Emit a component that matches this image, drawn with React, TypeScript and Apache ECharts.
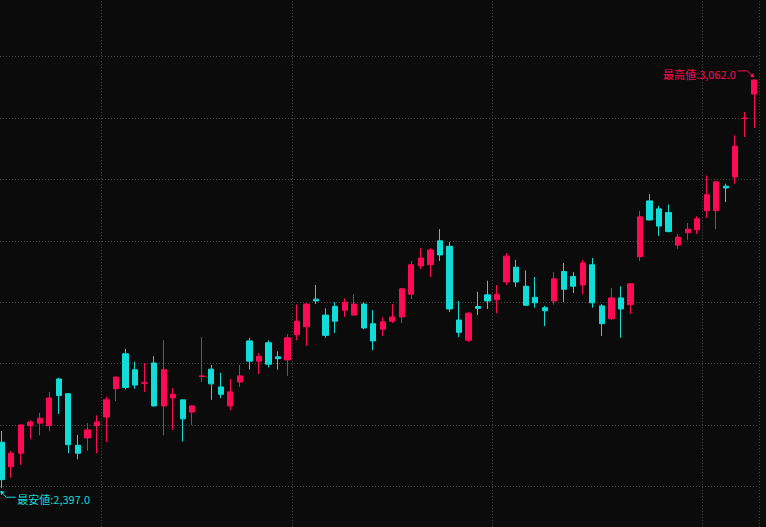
import React, { useEffect, useRef } from "react";
import * as echarts from "echarts";

// Trading days (month -> day numbers)
const monthKeys = ["2025/04", "2025/05", "2025/06", "2025/07", "2025/08"];
const monthDays = [
  [15, 16, 17, 18, 21, 22, 23, 24, 25, 28, 30],
  [1, 2, 7, 8, 9, 12, 13, 14, 15, 16, 19, 20, 21, 22, 23, 26, 27, 28, 29, 30],
  [2, 3, 4, 5, 6, 9, 10, 11, 12, 13, 16, 17, 18, 19, 20, 23, 24, 25, 26, 27, 30],
  [1, 2, 3, 4, 7, 8, 9, 10, 11, 14, 15, 16, 17, 18, 22, 23, 24, 25, 28, 29, 30, 31],
  [1, 4, 5, 6, 7, 8],
];

const opens = [
  2472, 2432, 2454, 2499, 2503, 2499, 2575, 2551, 2467, 2479, 2499, 2513, 2559, 2616, 2590, 2568,
  2601, 2531, 2544, 2541, 2521, 2579, 2591, 2562, 2531, 2570, 2637, 2604, 2634, 2611, 2606, 2647,
  2660, 2705, 2679, 2693, 2687, 2679, 2697, 2665, 2656, 2669, 2676, 2713, 2759, 2761, 2800, 2791,
  2671, 2638, 2693, 2712, 2704, 2733, 2757, 2726, 2708, 2691, 2702, 2750, 2742, 2728, 2761, 2694,
  2673, 2707, 2696, 2774, 2865, 2852, 2846, 2793, 2813, 2818, 2849, 2849, 2889, 2904, 2999, 3039,
];
const closes = [
  2411, 2454, 2500, 2505, 2511, 2544, 2548, 2468, 2454, 2492, 2505, 2541, 2578, 2561, 2565, 2569,
  2531, 2590, 2550, 2510, 2531, 2580, 2567, 2550, 2554, 2580, 2604, 2612, 2599, 2608, 2642, 2669,
  2697, 2702, 2646, 2669, 2700, 2697, 2658, 2637, 2668, 2676, 2722, 2761, 2772, 2785, 2777, 2689,
  2651, 2682, 2690, 2702, 2713, 2775, 2733, 2695, 2699, 2686, 2738, 2721, 2726, 2764, 2699, 2665,
  2707, 2689, 2730, 2839, 2834, 2824, 2815, 2806, 2819, 2836, 2875, 2896, 2886, 2954, 3000, 3062,
];
const lows = [
  2397, 2414, 2435, 2477, 2483, 2490, 2518, 2454, 2444, 2458, 2454, 2472, 2539, 2558, 2559, 2554,
  2530, 2483, 2492, 2473, 2500, 2570, 2541, 2544, 2524, 2562, 2590, 2583, 2594, 2590, 2580, 2638,
  2629, 2697, 2642, 2650, 2676, 2678, 2656, 2622, 2645, 2666, 2666, 2705, 2754, 2741, 2767, 2684,
  2643, 2635, 2679, 2689, 2682, 2728, 2725, 2694, 2691, 2661, 2696, 2700, 2715, 2713, 2691, 2645,
  2671, 2642, 2681, 2767, 2833, 2808, 2814, 2787, 2801, 2811, 2837, 2819, 2863, 2893, 2969, 2984,
];
const highs = [
  2490, 2458, 2501, 2508, 2520, 2554, 2577, 2552, 2484, 2503, 2516, 2546, 2579, 2624, 2603, 2601,
  2612, 2638, 2560, 2541, 2532, 2643, 2598, 2585, 2575, 2598, 2642, 2617, 2638, 2620, 2648, 2696,
  2698, 2728, 2690, 2700, 2706, 2713, 2700, 2687, 2676, 2697, 2722, 2767, 2788, 2788, 2819, 2798,
  2702, 2684, 2717, 2735, 2728, 2780, 2769, 2752, 2741, 2694, 2749, 2764, 2749, 2769, 2772, 2697,
  2723, 2726, 2731, 2849, 2876, 2857, 2859, 2811, 2829, 2840, 2906, 2897, 2893, 2972, 3010, 3062,
];

const UP = "#ff0a55";
const DOWN = "#12dcd8";
const BG = "#0b0b0b";
const GRID = "#4a4a4a";

export default function App() {
  const ref = useRef<HTMLDivElement>(null);

  useEffect(() => {
    document.body.style.margin = "0";
    document.body.style.background = BG;
    const el = ref.current!;
    const chart = echarts.init(el, undefined, { renderer: "svg" });

    const dates: string[] = [];
    const monthOf: string[] = [];
    monthKeys.forEach((m, mi) => {
      monthDays[mi].forEach((d) => {
        dates.push(m + "/" + String(d).padStart(2, "0"));
        monthOf.push(m);
      });
    });
    const data = opens.map((o, i) => [o, closes[i], lows[i], highs[i]]);

    chart.setOption({
      animation: false,
      backgroundColor: BG,
      grid: {
        left: -3.06,
        right: 6.94,
        top: -4.8,
        bottom: -20.8,
        containLabel: false,
        outerBoundsMode: "none",
      },
      xAxis: {
        type: "category",
        data: dates,
        boundaryGap: true,
        axisLine: { show: false },
        axisTick: { show: false },
        axisLabel: { show: false },
        splitLine: {
          show: true,
          interval: (index: number) => index > 0 && monthOf[index] !== monthOf[index - 1],
          lineStyle: { color: GRID, type: [1, 2], width: 1 },
        },
      },
      yAxis: {
        type: "value",
        min: 2300,
        max: 3200,
        interval: 100,
        axisLine: { show: false },
        axisTick: { show: false },
        axisLabel: { show: false },
        splitLine: { show: true, lineStyle: { color: GRID, type: [1, 2], width: 1 } },
      },
      series: [
        {
          type: "candlestick",
          data,
          barWidth: "60%",
          clip: false,
          itemStyle: {
            color: UP,
            color0: DOWN,
            borderColor: UP,
            borderColor0: DOWN,
            borderWidth: 1,
          },
        },
      ],
    });

    // annotations for highest / lowest values
    let hiIdx = 0;
    let loIdx = 0;
    highs.forEach((h, i) => {
      if (h > highs[hiIdx]) hiIdx = i;
    });
    lows.forEach((l, i) => {
      if (l < lows[loIdx]) loIdx = i;
    });
    const fmt = (v: number) =>
      v.toLocaleString("en-US", { minimumFractionDigits: 1, maximumFractionDigits: 1 });
    const hp = chart.convertToPixel({ xAxisIndex: 0, yAxisIndex: 0 }, [hiIdx, highs[hiIdx]]) as number[];
    const lp = chart.convertToPixel({ xAxisIndex: 0, yAxisIndex: 0 }, [loIdx, lows[loIdx]]) as number[];
    const font = '11px "Noto Sans CJK JP", "Noto Sans", sans-serif';

    chart.setOption({
      graphic: [
        {
          type: "text",
          style: {
            text: "最高値:" + fmt(highs[hiIdx]),
            x: hp[0] - 18.5,
            y: hp[1] - 6,
            fill: UP,
            font,
            textAlign: "right",
            textVerticalAlign: "middle",
          },
        },
        {
          type: "polyline",
          shape: {
            points: [
              [hp[0] - 16.5, hp[1] - 9],
              [hp[0] - 7, hp[1] - 9],
              [hp[0] - 1.5, hp[1] - 4],
            ],
          },
          style: { stroke: UP, lineWidth: 1, fill: "none" },
        },
        {
          type: "polygon",
          shape: {
            points: [
              [hp[0], hp[1] - 2.5],
              [hp[0] - 4.5, hp[1] - 3.5],
              [hp[0] - 1, hp[1] - 7],
            ],
          },
          style: { fill: UP },
        },
        {
          type: "text",
          style: {
            text: "最安値:" + fmt(lows[loIdx]),
            x: lp[0] + 15.6,
            y: lp[1] + 10.5,
            fill: DOWN,
            font,
            textAlign: "left",
            textVerticalAlign: "middle",
          },
        },
        {
          type: "polyline",
          shape: {
            points: [
              [lp[0] + 14, lp[1] + 9],
              [lp[0] + 4.5, lp[1] + 9],
              [lp[0] + 0.5, lp[1] + 4.5],
            ],
          },
          style: { stroke: DOWN, lineWidth: 1, fill: "none" },
        },
        {
          type: "polygon",
          shape: {
            points: [
              [lp[0] - 1.5, lp[1] + 2.5],
              [lp[0] + 3, lp[1] + 3.5],
              [lp[0] - 0.5, lp[1] + 7],
            ],
          },
          style: { fill: DOWN },
        },
      ],
    });

    return () => chart.dispose();
  }, []);

  return (
    <div
      ref={ref}
      style={{ position: "fixed", left: 0, top: 0, width: 766, height: 527, background: BG }}
    />
  );
}
